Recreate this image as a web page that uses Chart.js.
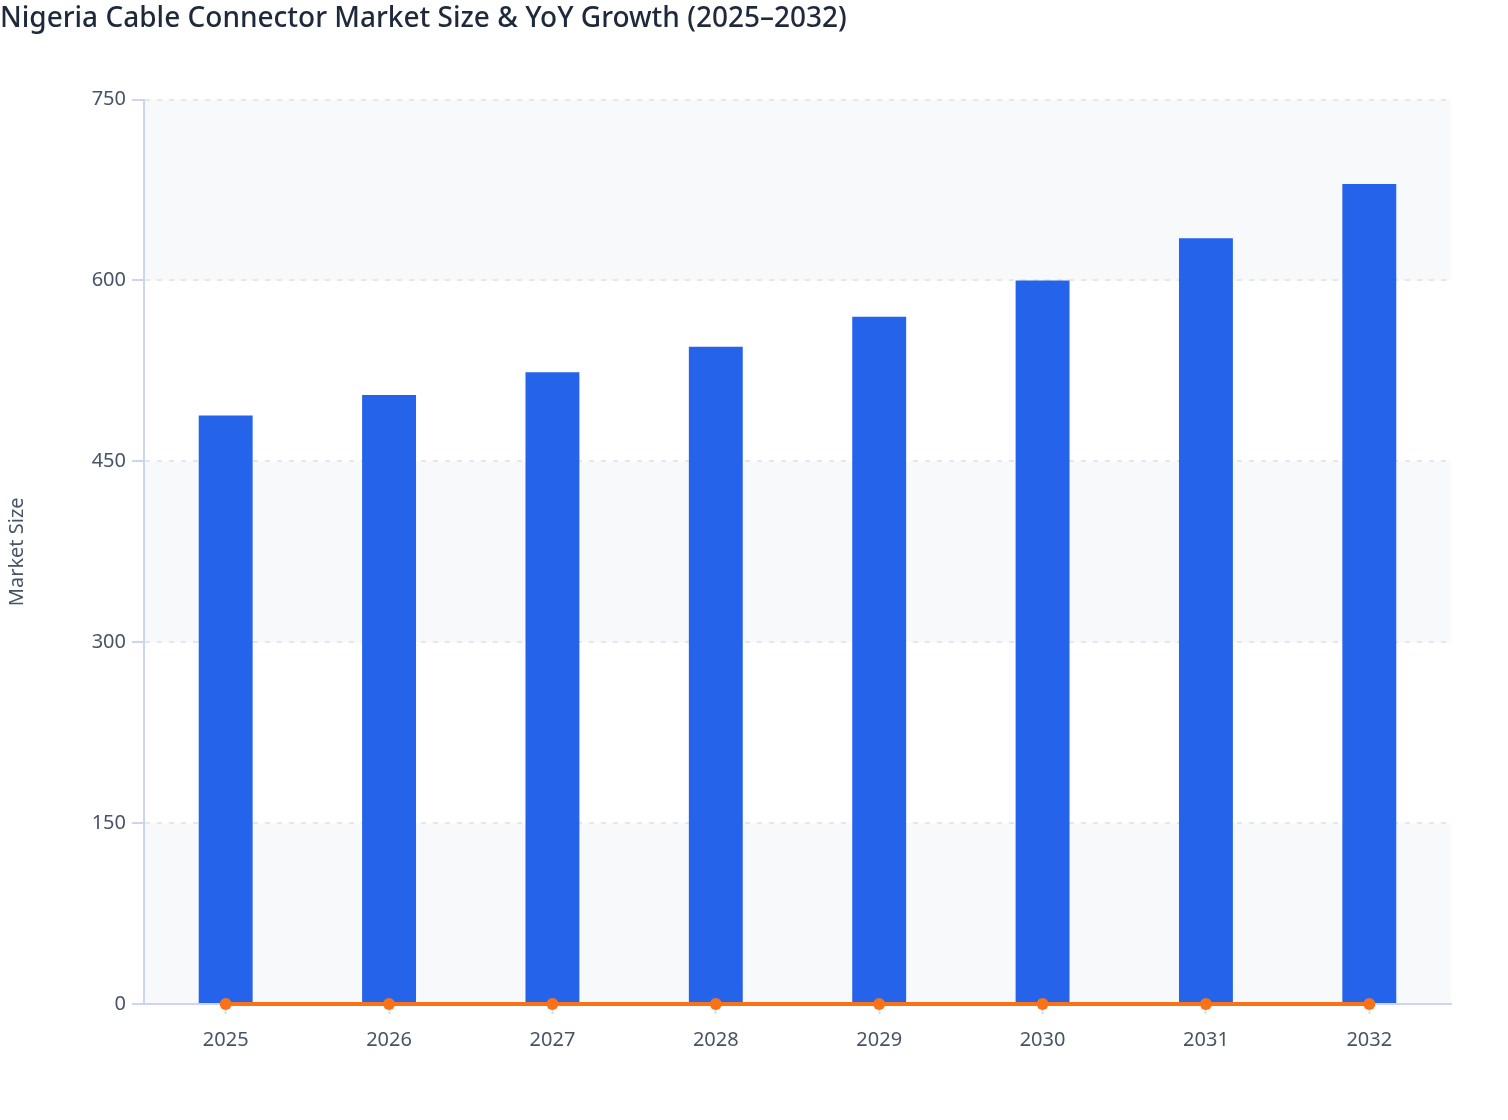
<!DOCTYPE html>
<html>
<head>
<meta charset="utf-8">
<title>Nigeria Cable Connector Market</title>
<script src="https://cdn.jsdelivr.net/npm/chart.js@4/dist/chart.umd.min.js"></script>
<style>
    html, body { margin: 0; padding: 0; background: #ffffff; }
    #wrap { width: 1508px; height: 1120px; position: relative; }
</style>
</head>
<body>
<div id="wrap"><canvas id="marketChart"></canvas></div>
<script>
// Chart data
const years = ['2025', '2026', '2027', '2028', '2029', '2030', '2031', '2032'];
const marketSize = [488, 505, 524, 545, 570, 600, 635, 680];
const yoyGrowth = [0.03, 0.035, 0.038, 0.04, 0.046, 0.053, 0.058, 0.071];
const yTicks = [0, 150, 300, 450, 600, 750];

const axisBlue = '#cbd5ef';
const tickText = '#475467';

// Alternating shaded bands behind the plot, one per y tick interval
const bandPlugin = {
    id: 'bands',
    beforeDraw(chart) {
        const { ctx, chartArea, scales } = chart;
        const y = scales.y;
        ctx.save();
        ctx.fillStyle = '#f8f9fb';
        for (let i = 0; i < yTicks.length - 1; i += 2) {
            const top = y.getPixelForValue(yTicks[i + 1]);
            const bottom = y.getPixelForValue(yTicks[i]);
            ctx.fillRect(chartArea.left, top, chartArea.right - chartArea.left, bottom - top);
        }
        ctx.restore();
    }
};

const ctx = document.getElementById('marketChart');

new Chart(ctx.getContext('2d'), {
    type: 'bar',
    data: {
        labels: years,
        datasets: [
            {
                type: 'line',
                label: 'YoY Growth',
                data: yoyGrowth,
                borderColor: '#f97316',
                backgroundColor: '#f97316',
                borderWidth: 4,
                pointRadius: 6,
                pointBorderWidth: 0,
                pointBackgroundColor: '#f97316',
                tension: 0,
                clip: false,
                order: 0
            },
            {
                label: 'Market Size',
                data: marketSize,
                backgroundColor: '#2563eb',
                borderWidth: 0,
                barPercentage: 0.33,
                categoryPercentage: 1,
                order: 1
            }
        ]
    },
    options: {
        responsive: true,
        maintainAspectRatio: false,
        animation: false,
        layout: {
            padding: { left: 0, right: 57, top: 0, bottom: 0 }
        },
        plugins: {
            legend: { display: false },
            tooltip: { enabled: false },
            title: {
                display: true,
                text: 'Nigeria Cable Connector Market Size & YoY Growth (2025–2032)',
                align: 'start',
                color: '#1e293b',
                font: { family: 'Noto Sans', size: 28, weight: '500', lineHeight: 1.2 },
                padding: { top: 2, bottom: 64 }
            }
        },
        scales: {
            x: {
                afterFit(scale) { scale.height = 116; },
                grid: {
                    offset: false,
                    drawOnChartArea: false,
                    drawTicks: true,
                    tickLength: 10,
                    tickColor: '#d3dcf0',
                    tickWidth: 2
                },
                border: { color: axisBlue, width: 2 },
                ticks: {
                    color: tickText,
                    padding: 14,
                    font: { family: 'Noto Sans', size: 20 }
                }
            },
            y: {
                min: 0,
                max: 750,
                afterFit(scale) { scale.width = 144; },
                afterBuildTicks(scale) {
                    scale.ticks = yTicks.map(v => ({ value: v }));
                },
                grid: {
                    color: (c) => (c.tick && c.tick.value === 0) ? 'rgba(0,0,0,0)' : '#e4e7ec',
                    lineWidth: 2,
                    tickLength: 12,
                    tickColor: axisBlue,
                    tickWidth: 2
                },
                border: { color: axisBlue, width: 2, dash: [5, 7] },
                ticks: {
                    color: tickText,
                    padding: 6,
                    font: { family: 'Noto Sans', size: 20 }
                },
                title: {
                    display: true,
                    text: 'Market Size',
                    color: tickText,
                    padding: { top: 5, bottom: 0 },
                    font: { family: 'Noto Sans', size: 20 }
                }
            }
        }
    },
    plugins: [bandPlugin]
});
</script>
</body>
</html>
